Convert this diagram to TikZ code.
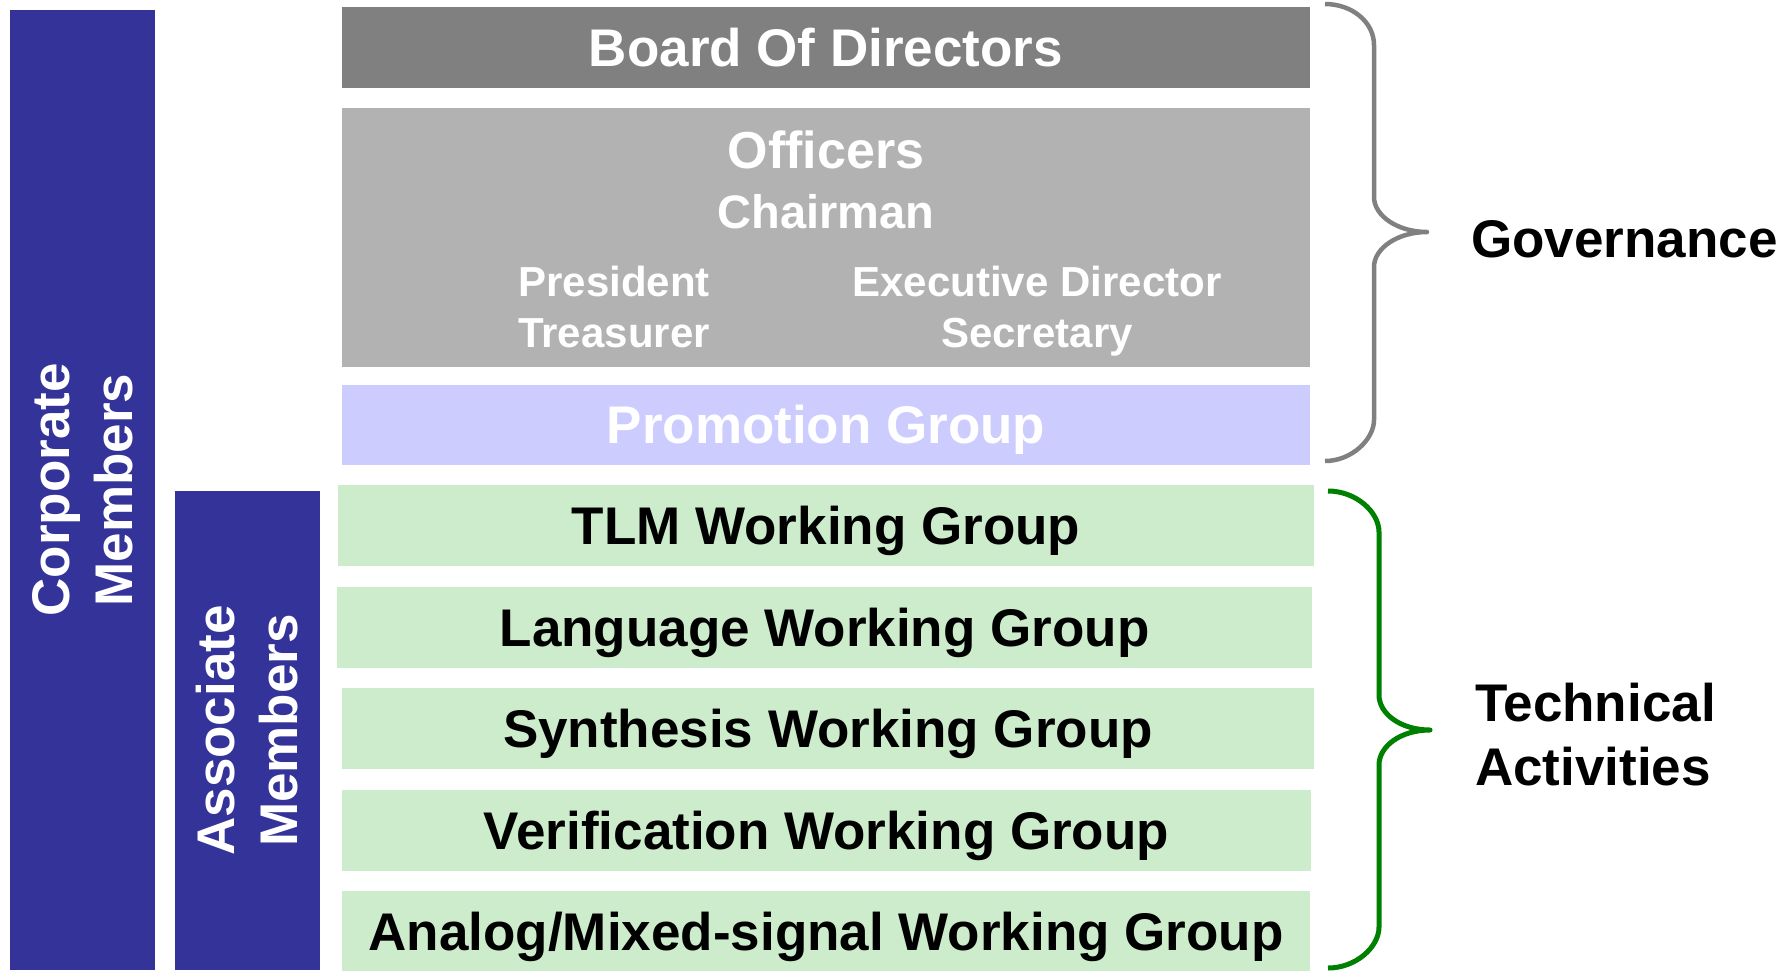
\documentclass[tikz,border=0pt]{standalone}
\usepackage{fontspec}
\setmainfont{Liberation Sans}
\usepackage{tikz}
\definecolor{corpblue}{RGB}{51,51,153}
\definecolor{boardgray}{RGB}{128,128,128}
\definecolor{officergray}{RGB}{178,178,178}
\definecolor{promolilac}{RGB}{204,204,255}
\definecolor{wggreen}{RGB}{204,236,204}
\definecolor{bracegreen}{RGB}{0,128,0}

\begin{document}
\begin{tikzpicture}
[
x=1pt,y=-1pt,
memberbar/.style={fill=corpblue,text=white,inner sep=0pt,align=center,rotate=90,
            font=\fontsize{53}{63}\selectfont\bfseries},
govbox/.style={fill=#1,inner sep=0pt,minimum width=968pt,text=white,
            text height=37pt,text depth=0pt},
wgbox/.style={fill=wggreen,inner sep=0pt,minimum height=81pt,text height=38pt,text depth=0pt,
            font=\fontsize{53}{53}\selectfont\bfseries},
offtext/.style={anchor=base,text=white,inner sep=0pt,font=\fontsize{#1}{#1}\selectfont\bfseries},
sidetext/.style={anchor=base west,inner sep=0pt,font=\fontsize{53}{53}\selectfont\bfseries},
]
\useasboundingbox (0,0) rectangle (1792,970);

%Member bars
\node[memberbar,minimum width=960pt,minimum height=145pt] (corp) at (82.5,490) {Corporate\\Members};
\node[memberbar,minimum width=479pt,minimum height=145pt] (assoc) at (247.5,730.5) {Associate\\Members};

%Governance boxes
\node[govbox=boardgray,minimum height=81pt,font=\fontsize{53}{53}\selectfont\bfseries] (board) at (826,47.5) {Board Of Directors};
\node[govbox=officergray,minimum height=259pt] (officers) at (826,237.5) {};
\node[govbox=promolilac,minimum height=80pt,font=\fontsize{53}{53}\selectfont\bfseries] (promo) at (826,425) {Promotion Group};

%Officers
\node[offtext=52] (offtitle) at (826,168) {Officers};
\node[offtext=47] (chair) at (826,228) {Chairman};
\node[offtext=42] (pres) at (614,296) {President};
\node[offtext=42] (treas) at (614,347) {Treasurer};
\node[offtext=42] (exec) at (1037,296) {Executive Director};
\node[offtext=42] (secr) at (1037,347) {Secretary};

%Working groups
\node[wgbox,minimum width=976pt] (tlm) at (826,525.5) {TLM Working Group};
\node[wgbox,minimum width=975pt] (lang) at (824.5,627.5) {Language Working Group};
\node[wgbox,minimum width=972pt] (synth) at (828,728.5) {Synthesis Working Group};
\node[wgbox,minimum width=969pt] (verif) at (826.5,830.5) {Verification Working Group};
\node[wgbox,minimum width=968pt] (analog) at (826,931.5) {Analog/Mixed-signal Working Group};

%Braces and their labels
\draw[boardgray,line width=4.5pt,line join=round] (1325,4) .. controls (1352,4) and (1374,22) .. (1374,45)
  -- (1374,197) .. controls (1374,216) and (1398,232) .. (1427,232)
  .. controls (1398,232) and (1374,248) .. (1374,267)
  -- (1374,420) .. controls (1374,439) and (1352,461) .. (1325,461);
\draw[bracegreen,line width=5pt,line join=round] (1328,491) .. controls (1356,491) and (1379,512) .. (1379,532)
  -- (1379,695) .. controls (1379,714) and (1401,730) .. (1430,730)
  .. controls (1401,730) and (1379,746) .. (1379,765)
  -- (1379,927) .. controls (1379,947) and (1356,968) .. (1328,968);
\node[sidetext] (gov) at (1471,257) {Governance};
\node[sidetext] (tech) at (1475,721) {Technical};
\node[sidetext] (act) at (1475,785) {Activities};
\end{tikzpicture}
\end{document}
